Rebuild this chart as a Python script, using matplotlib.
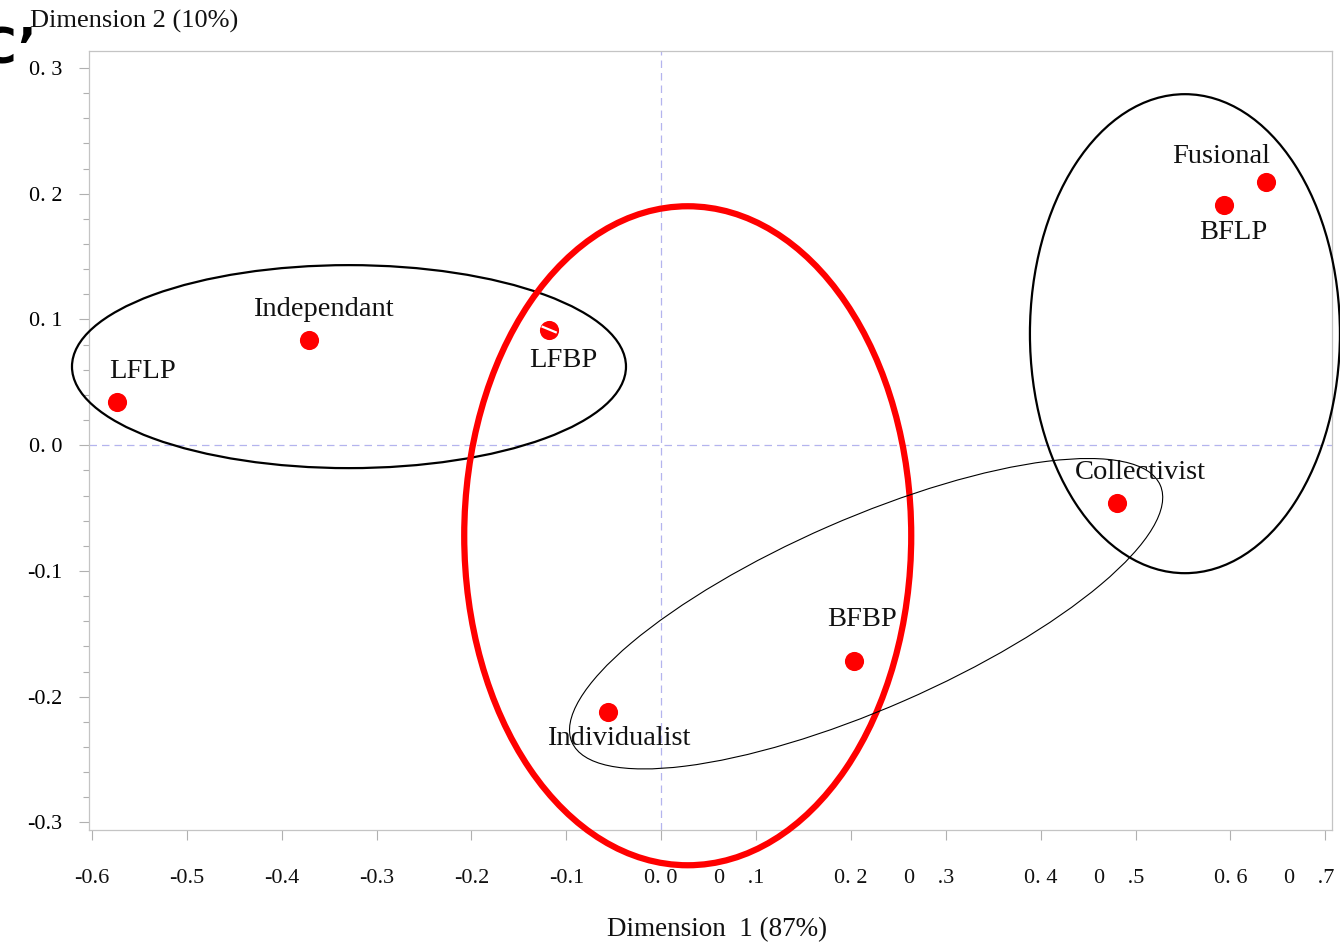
import matplotlib
matplotlib.use("Agg")
import matplotlib.pyplot as plt
from matplotlib.patches import Ellipse
from matplotlib.transforms import ScaledTranslation
import numpy as np

#### DATA ####
categories = ["LFLP", "Independant", "LFBP", "Individualist",
              "BFBP", "Collectivist", "BFLP", "Fusional"]
dim1 = [-0.573, -0.371, -0.118, -0.056, 0.203, 0.480, 0.593, 0.637]
dim2 = [0.034, 0.084, 0.092, -0.212, -0.172, -0.046, 0.191, 0.209]

xticks = [-0.6, -0.5, -0.4, -0.3, -0.2, -0.1, 0.0, 0.1, 0.2, 0.3, 0.4, 0.5, 0.6, 0.7]
xticklabels = ["-0.6", "-0.5", "-0.4", "-0.3", "-0.2", "-0.1", "0. 0",
               "0    .1", "0. 2", "0    .3", "0. 4", "0    .5", "0. 6", "0    .7"]
yticks = [-0.3, -0.2, -0.1, 0.0, 0.1, 0.2, 0.3]
yticklabels = ["-0.3", "-0.2", "-0.1", "0. 0", "0. 1", "0. 2", "0. 3"]

# label offsets (points) relative to each dot
label_off = {"LFLP": (18, 22), "Independant": (10, 22), "LFBP": (10, -22),
             "Individualist": (8, -19), "BFBP": (6, 30), "Collectivist": (17, 22),
             "BFLP": (7, -20), "Fusional": (-32, 19)}

plt.rcParams['font.family'] = ['Liberation Serif', 'DejaVu Serif']

fig = plt.figure(figsize=(13.4, 9.43), dpi=100)
ax = fig.add_axes([89 / 1340, 1 - 830 / 943, (1332 - 89) / 1340, (830 - 51) / 943])

ax.set_xlim(-0.603, 0.707)
ax.set_ylim(-0.306, 0.3135)

# crosshair at origin
ax.axhline(0, color="#b4b4ee", lw=0.9, dashes=(6, 4), zorder=1)
ax.axvline(0, color="#b4b4ee", lw=0.9, dashes=(6, 4), zorder=1)

# points + labels
ax.scatter(dim1, dim2, s=190, color="#ff0000", zorder=4, linewidths=0)
for name, x, y in zip(categories, dim1, dim2):
    dx, dy = label_off[name]
    ax.annotate(name, (x, y), xytext=(dx, dy), textcoords="offset points",
                ha="center", va="center", fontsize=20.5, color="#111111", zorder=5)
# scan artefact stripe on LFBP dot
i = categories.index("LFBP")
ax.plot([dim1[i] - 0.008, dim1[i] + 0.008], [dim2[i] + 0.0025, dim2[i] - 0.0025],
        color="white", lw=1.6, zorder=5, solid_capstyle="butt")


def add_ellipse(cx, cy, w_in, h_in, angle, color, lw):
    tr = fig.dpi_scale_trans + ScaledTranslation(cx, cy, ax.transData)
    e = Ellipse((0, 0), w_in, h_in, angle=angle, fill=False, edgecolor=color,
                lw=lw, transform=tr, clip_on=False, zorder=3)
    ax.add_patch(e)


add_ellipse(-0.329, 0.0625, 5.54, 2.03, 0, "black", 1.6)
add_ellipse(0.028, -0.072, 4.47, 6.59, 0, "#ff0000", 4.5)
add_ellipse(0.552, 0.0887, 3.10, 4.79, 0, "black", 1.6)
add_ellipse(0.216, -0.134, 6.42, 1.90, 23.6, "black", 0.8)

# axes styling
for sp in ax.spines.values():
    sp.set_color("#c4c4c4")
    sp.set_linewidth(0.9)
ax.set_xticks(xticks)
ax.set_xticklabels([])
ax.set_yticks(yticks)
ax.set_yticklabels(yticklabels, fontsize=16)
ax.set_yticks(np.arange(-0.3, 0.3001, 0.02), minor=True)
ax.tick_params(axis="x", which="major", length=7, width=0.8, color="#b0b0b0")
ax.tick_params(axis="y", which="major", length=7, width=0.8, color="#b0b0b0", pad=12)
ax.tick_params(axis="y", which="minor", length=4, width=0.8, color="#b0b0b0")

# x tick labels placed by hand (the split "0  .x" ones sit left of their tick)
for v, lab in zip(xticks, xticklabels):
    shift = -12 if lab.startswith("0  ") else 0
    ax.annotate(lab, (v, 0), xycoords=("data", "axes fraction"),
                xytext=(shift, -35), textcoords="offset points",
                ha="center", va="center", fontsize=16, color="#111111")

fig.text(30 / 1340, 1 - 21 / 943, "Dimension 2 (10%)", ha="left", va="center",
         fontsize=19, color="#111111")
fig.text(717 / 1340, 1 - 930 / 943, "Dimension  1 (87%)", ha="center", va="center",
         fontsize=19.5, color="#111111")
# cropped panel letter at corner
fig.text(-21 / 1340, 1 - 50 / 943, "C\u2019", ha="left", va="center",
         fontsize=36, fontweight="bold", family="DejaVu Sans", color="black")

fig.savefig("out.png", dpi=100)
